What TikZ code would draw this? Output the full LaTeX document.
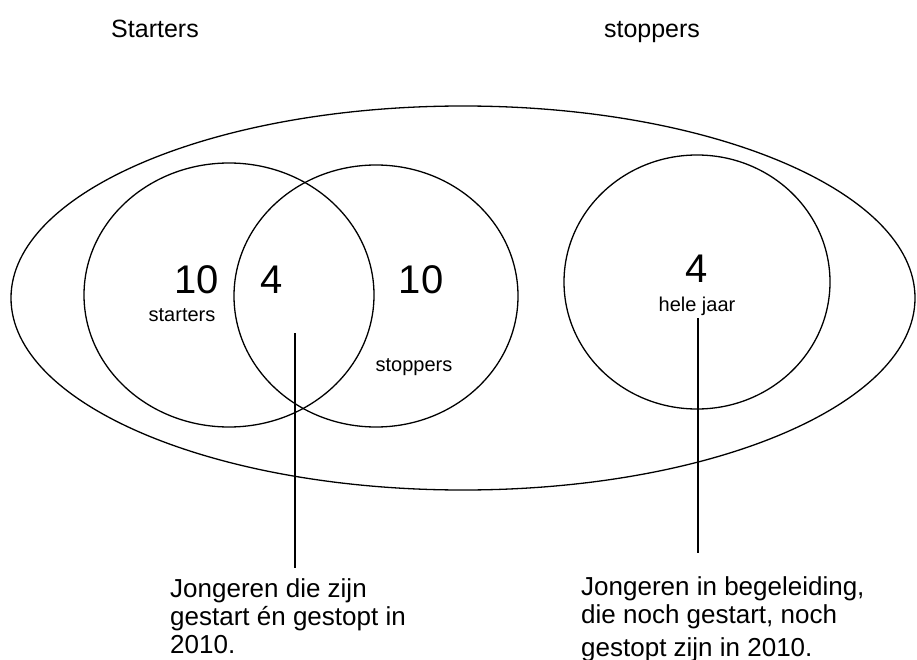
\documentclass[tikz,border=0pt]{standalone}
\usepackage{fontspec}
\setmainfont{Liberation Sans}
\usetikzlibrary{shapes.geometric}
\begin{document}
\begin{tikzpicture}[x=1pt,y=-1pt,
  ring/.style={draw=black,line width=1.3pt,ellipse,inner sep=0pt,outer sep=0pt},
  bignum/.style={font=\fontsize{40}{44}\selectfont,inner sep=0pt},
  small/.style={font=\fontsize{20}{23}\selectfont,inner sep=0pt},
  label/.style={font=\fontsize{25}{29}\selectfont,inner sep=0pt},
  note/.style={font=\fontsize{26}{28}\selectfont,inner sep=0pt,align=left},
  leader/.style={draw=black,line width=1.3pt}]
\useasboundingbox (0,0) rectangle (917,660);
% ellipses
\node[ring,minimum width=904pt,minimum height=384pt] (outer) at (463,298) {};
\node[ring,minimum width=290pt,minimum height=264pt] (starters) at (229,295) {};
\node[ring,minimum width=284pt,minimum height=262pt] (stoppers) at (376,296) {};
\node[ring,minimum width=266pt,minimum height=254pt] (jaar) at (697,282) {};
% top labels
\node[label,anchor=base] (tStart) at (155,38) {Starters};
\node[label,anchor=base] (tStop) at (652,38) {stoppers};
% numbers
\node[bignum,anchor=base] (n1) at (197,293) {10};
\node[bignum,anchor=base] (n2) at (272,293) {4};
\node[bignum,anchor=base] (n3) at (421,293) {10};
\node[bignum,anchor=base] (n4) at (697,282) {4};
\node[small,anchor=base] (l1) at (182,321) {starters};
\node[small,anchor=base] (l2) at (414,371) {stoppers};
\node[small,anchor=base] (l3) at (697,311) {hele jaar};
% notes (base anchor = baseline of last line)
\node[note,anchor=base west] (noteA) at (170,653) {Jongeren die zijn\\gestart én gestopt in\\2010.};
\node[note,anchor=base west] (noteB) at (581,656) {Jongeren in begeleiding,\\die noch gestart, noch\\[5pt]gestopt zijn in 2010.};
% leaders
\coordinate (a1) at (295,333);
\coordinate (a2) at (295,568);
\coordinate (b1) at (698,318);
\coordinate (b2) at (698,553);
\draw[leader] (a1) -- (a2);
\draw[leader] (b1) -- (b2);
\end{tikzpicture}
\end{document}
